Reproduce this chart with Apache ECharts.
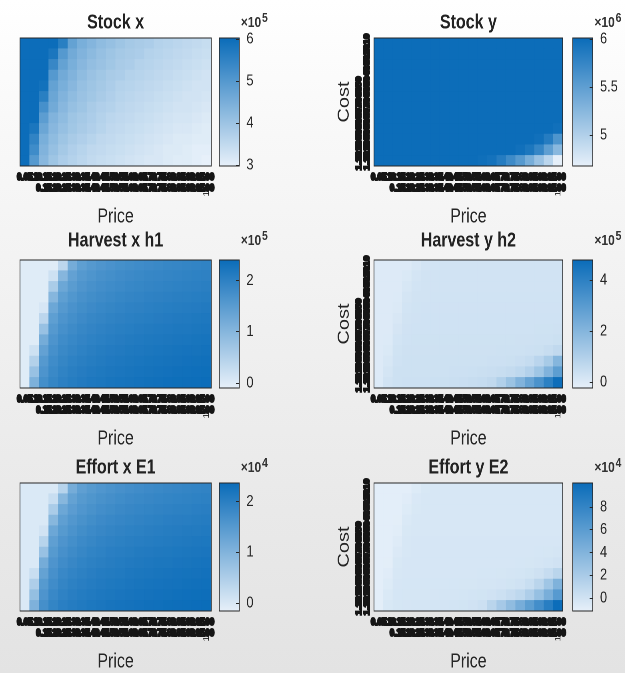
<!DOCTYPE html>
<html><head><meta charset="utf-8">
<script src="https://cdn.jsdelivr.net/npm/echarts@6/dist/echarts.min.js"></script>
<style>
html,body{margin:0;padding:0;width:625px;height:673px;overflow:hidden;
background:linear-gradient(to bottom,#ffffff 0%,#f8f8f8 20%,#ededed 60%,#e3e3e3 100%);}
#main{width:781px;height:673px;transform:scaleX(0.8);transform-origin:0 0;}
</style></head><body><div id="main"></div>
<script>
const prices = ['0.05','0.10','0.15','0.20','0.25','0.30','0.35','0.40','0.45','0.50','0.55','0.60','0.65','0.70','0.75','0.80','0.85','0.90','0.95','1.00'];
const costs = ['0.10','0.20','0.30','0.40','0.50','0.60','0.70','0.80','0.90','1.00','1.10','1.20'];

const stockX = [
[6,6,6,6,5.6,4.8,4.5,4.35,4.2,4.1,4.0,3.9,3.85,3.8,3.7,3.65,3.6,3.55,3.5,3.45],
[6,6,6,5.8,5.0,4.6,4.4,4.25,4.1,4.0,3.9,3.85,3.8,3.7,3.65,3.6,3.55,3.5,3.45,3.4],
[6,6,6,5.4,4.8,4.5,4.3,4.15,4.05,3.95,3.85,3.8,3.7,3.65,3.6,3.55,3.5,3.45,3.4,3.35],
[6,6,6,5.0,4.6,4.4,4.2,4.05,3.95,3.85,3.8,3.7,3.65,3.6,3.55,3.5,3.45,3.4,3.35,3.3],
[6,6,5.9,4.8,4.5,4.3,4.1,4.0,3.9,3.8,3.7,3.65,3.6,3.55,3.5,3.45,3.4,3.35,3.3,3.3],
[6,6,5.6,4.7,4.4,4.2,4.05,3.95,3.85,3.75,3.65,3.6,3.55,3.5,3.45,3.4,3.35,3.3,3.3,3.25],
[6,6,5.2,4.6,4.3,4.1,4.0,3.85,3.75,3.7,3.6,3.55,3.5,3.45,3.4,3.35,3.3,3.3,3.25,3.2],
[6,6,4.9,4.4,4.2,4.0,3.9,3.8,3.7,3.6,3.55,3.5,3.45,3.4,3.35,3.3,3.25,3.25,3.2,3.15],
[6,5.8,4.7,4.3,4.1,3.95,3.85,3.75,3.65,3.55,3.5,3.45,3.4,3.35,3.3,3.25,3.2,3.2,3.15,3.1],
[6,5.5,4.5,4.2,4.0,3.85,3.75,3.65,3.55,3.5,3.45,3.4,3.35,3.3,3.25,3.2,3.15,3.15,3.1,3.1],
[6,5.3,4.4,4.1,3.9,3.75,3.65,3.55,3.5,3.45,3.4,3.35,3.3,3.25,3.2,3.15,3.15,3.1,3.05,3.05],
[6,5.0,4.3,4.0,3.8,3.7,3.6,3.5,3.45,3.4,3.35,3.3,3.25,3.2,3.2,3.15,3.1,3.1,3.05,3.0]
];
const stockY = [
[6,6,6,6,6,6,6,6,6,6,6,6,6,6,6,6,6,6,6,6],
[6,6,6,6,6,6,6,6,6,6,6,6,6,6,6,6,6,6,6,6],
[6,6,6,6,6,6,6,6,6,6,6,6,6,6,6,6,6,6,6,6],
[6,6,6,6,6,6,6,6,6,6,6,6,6,6,6,6,6,6,6,6],
[6,6,6,6,6,6,6,6,6,6,6,6,6,6,6,6,6,6,6,6],
[6,6,6,6,6,6,6,6,6,6,6,6,6,6,6,6,6,6,6,6],
[6,6,6,6,6,6,6,6,6,6,6,6,6,6,6,6,6,6,6,6],
[6,6,6,6,6,6,6,6,6,6,6,6,6,6,6,6,6,6,6,6],
[6,6,6,6,6,6,6,6,6,6,6,6,6,6,6,6,6,6,6,5.97],
[6,6,6,6,6,6,6,6,6,6,6,6,6,6,6,6,6,5.97,5.85,5.6],
[6,6,6,6,6,6,6,6,6,6,6,6,6,6,6,5.97,5.9,5.75,5.5,5.25],
[6,6,6,6,6,6,6,6,6,6,6,5.98,5.95,5.85,5.7,5.55,5.35,5.15,4.95,4.7]
];
const harvestX = [
[0,0,0,0,0.4,1.2,1.45,1.55,1.62,1.68,1.73,1.77,1.8,1.83,1.86,1.89,1.91,1.93,1.95,1.97],
[0,0,0,0.2,1.0,1.4,1.55,1.63,1.7,1.75,1.79,1.83,1.86,1.89,1.91,1.93,1.95,1.97,1.99,2.0],
[0,0,0,0.6,1.3,1.5,1.62,1.7,1.76,1.8,1.84,1.88,1.9,1.93,1.95,1.97,1.99,2.01,2.02,2.04],
[0,0,0,1.0,1.45,1.6,1.7,1.77,1.82,1.86,1.9,1.93,1.95,1.98,2.0,2.02,2.04,2.05,2.07,2.08],
[0,0,0.1,1.3,1.55,1.68,1.77,1.83,1.88,1.92,1.95,1.98,2.0,2.03,2.05,2.07,2.08,2.1,2.11,2.13],
[0,0,0.4,1.45,1.65,1.75,1.83,1.89,1.93,1.97,2.0,2.03,2.05,2.07,2.09,2.11,2.13,2.14,2.16,2.17],
[0,0,0.8,1.55,1.72,1.82,1.89,1.94,1.98,2.02,2.05,2.07,2.1,2.12,2.14,2.15,2.17,2.18,2.2,2.21],
[0,0,1.2,1.65,1.8,1.88,1.94,1.99,2.03,2.06,2.09,2.12,2.14,2.16,2.18,2.19,2.21,2.22,2.24,2.25],
[0,0.2,1.4,1.72,1.86,1.93,1.99,2.04,2.08,2.11,2.13,2.16,2.18,2.2,2.22,2.23,2.25,2.26,2.27,2.29],
[0,0.5,1.55,1.8,1.92,1.99,2.04,2.08,2.12,2.15,2.17,2.2,2.22,2.24,2.25,2.27,2.28,2.3,2.31,2.32],
[0,0.8,1.65,1.86,1.97,2.04,2.09,2.13,2.16,2.19,2.21,2.23,2.25,2.27,2.29,2.3,2.32,2.33,2.34,2.35],
[0,1.1,1.75,1.92,2.02,2.08,2.13,2.17,2.2,2.23,2.25,2.27,2.29,2.31,2.32,2.34,2.35,2.36,2.37,2.38]
];
const harvestY = [
[0.02,0.02,0.02,0.02,0.12,0.24,0.26,0.27,0.27,0.27,0.27,0.27,0.27,0.27,0.27,0.27,0.27,0.27,0.27,0.27],
[0.02,0.02,0.02,0.08,0.22,0.27,0.28,0.28,0.28,0.28,0.28,0.28,0.28,0.28,0.28,0.28,0.28,0.28,0.28,0.28],
[0.02,0.02,0.02,0.15,0.26,0.28,0.29,0.29,0.29,0.29,0.29,0.29,0.29,0.29,0.29,0.29,0.29,0.29,0.29,0.29],
[0.02,0.02,0.03,0.22,0.28,0.29,0.3,0.3,0.3,0.3,0.3,0.3,0.3,0.3,0.3,0.3,0.3,0.3,0.3,0.3],
[0.02,0.02,0.06,0.26,0.3,0.31,0.31,0.31,0.31,0.31,0.31,0.31,0.31,0.31,0.31,0.31,0.31,0.31,0.31,0.31],
[0.02,0.02,0.12,0.29,0.31,0.32,0.32,0.32,0.32,0.32,0.32,0.32,0.32,0.32,0.32,0.32,0.32,0.32,0.32,0.33],
[0.02,0.02,0.2,0.31,0.33,0.33,0.33,0.33,0.33,0.33,0.33,0.33,0.33,0.33,0.33,0.33,0.33,0.34,0.34,0.35],
[0.02,0.03,0.26,0.33,0.34,0.34,0.34,0.34,0.34,0.34,0.34,0.34,0.34,0.34,0.34,0.35,0.35,0.36,0.38,0.42],
[0.02,0.08,0.3,0.35,0.35,0.35,0.35,0.35,0.35,0.35,0.35,0.35,0.35,0.36,0.36,0.37,0.39,0.42,0.5,0.65],
[0.02,0.15,0.33,0.36,0.36,0.36,0.36,0.36,0.36,0.37,0.37,0.38,0.39,0.4,0.42,0.46,0.55,0.8,1.2,2.0],
[0.02,0.22,0.36,0.37,0.37,0.37,0.38,0.38,0.39,0.4,0.41,0.43,0.46,0.5,0.58,0.7,0.95,1.4,2.1,2.9],
[0.03,0.28,0.38,0.39,0.39,0.4,0.41,0.42,0.44,0.47,0.5,0.55,0.65,1.0,1.5,2.1,2.7,3.3,4.0,4.7]
];
const effortX = [
[0,0,0,0,0.4,1.15,1.4,1.5,1.57,1.63,1.68,1.72,1.76,1.79,1.82,1.85,1.87,1.89,1.91,1.93],
[0,0,0,0.2,0.95,1.35,1.5,1.58,1.65,1.7,1.75,1.79,1.82,1.85,1.88,1.9,1.92,1.94,1.96,1.97],
[0,0,0,0.55,1.25,1.45,1.57,1.65,1.72,1.77,1.81,1.85,1.88,1.9,1.93,1.95,1.97,1.98,2.0,2.02],
[0,0,0,0.95,1.4,1.55,1.65,1.73,1.79,1.83,1.87,1.9,1.93,1.96,1.98,2.0,2.02,2.03,2.05,2.06],
[0,0,0.1,1.25,1.5,1.63,1.73,1.8,1.85,1.89,1.93,1.96,1.98,2.01,2.03,2.05,2.06,2.08,2.09,2.11],
[0,0,0.4,1.4,1.6,1.71,1.8,1.86,1.91,1.95,1.98,2.01,2.03,2.05,2.07,2.09,2.11,2.12,2.14,2.15],
[0,0,0.75,1.5,1.68,1.78,1.86,1.92,1.96,2.0,2.03,2.05,2.08,2.1,2.12,2.13,2.15,2.16,2.18,2.19],
[0,0,1.15,1.6,1.76,1.85,1.92,1.97,2.01,2.04,2.07,2.1,2.12,2.14,2.16,2.17,2.19,2.2,2.22,2.23],
[0,0.2,1.35,1.68,1.83,1.91,1.97,2.02,2.06,2.09,2.11,2.14,2.16,2.18,2.2,2.21,2.23,2.24,2.25,2.27],
[0,0.5,1.5,1.76,1.89,1.97,2.02,2.06,2.1,2.13,2.15,2.18,2.2,2.22,2.23,2.25,2.26,2.28,2.29,2.3],
[0,0.8,1.6,1.83,1.95,2.02,2.07,2.11,2.14,2.17,2.19,2.21,2.23,2.25,2.27,2.28,2.3,2.31,2.32,2.33],
[0,1.05,1.7,1.9,2.0,2.06,2.11,2.15,2.18,2.21,2.23,2.25,2.27,2.29,2.3,2.32,2.33,2.34,2.35,2.36]
];
const effortY = [
[-0.9,-0.9,-0.9,-0.9,-0.6,-0.35,-0.3,-0.3,-0.3,-0.3,-0.3,-0.3,-0.3,-0.3,-0.3,-0.3,-0.3,-0.3,-0.3,-0.3],
[-0.9,-0.9,-0.9,-0.75,-0.4,-0.3,-0.29,-0.29,-0.29,-0.29,-0.29,-0.29,-0.29,-0.29,-0.29,-0.29,-0.29,-0.29,-0.29,-0.29],
[-0.9,-0.9,-0.9,-0.6,-0.35,-0.29,-0.28,-0.28,-0.28,-0.28,-0.28,-0.28,-0.28,-0.28,-0.28,-0.28,-0.28,-0.28,-0.28,-0.28],
[-0.9,-0.9,-0.88,-0.45,-0.3,-0.27,-0.27,-0.27,-0.27,-0.27,-0.27,-0.27,-0.27,-0.27,-0.27,-0.27,-0.27,-0.27,-0.27,-0.27],
[-0.9,-0.9,-0.8,-0.35,-0.27,-0.26,-0.26,-0.26,-0.26,-0.26,-0.26,-0.26,-0.26,-0.26,-0.26,-0.26,-0.26,-0.26,-0.26,-0.26],
[-0.9,-0.9,-0.65,-0.3,-0.25,-0.25,-0.25,-0.25,-0.25,-0.25,-0.25,-0.25,-0.25,-0.25,-0.25,-0.25,-0.25,-0.25,-0.25,-0.24],
[-0.9,-0.9,-0.5,-0.27,-0.24,-0.24,-0.24,-0.24,-0.24,-0.24,-0.24,-0.24,-0.24,-0.24,-0.24,-0.24,-0.22,-0.2,-0.18,-0.15],
[-0.9,-0.88,-0.35,-0.24,-0.22,-0.22,-0.22,-0.22,-0.22,-0.22,-0.22,-0.22,-0.22,-0.22,-0.21,-0.2,-0.18,-0.12,-0.05,0.1],
[-0.9,-0.75,-0.28,-0.22,-0.21,-0.21,-0.21,-0.21,-0.21,-0.21,-0.21,-0.2,-0.2,-0.18,-0.15,-0.1,0.0,0.2,0.6,1.2],
[-0.9,-0.6,-0.24,-0.2,-0.2,-0.2,-0.2,-0.2,-0.19,-0.18,-0.17,-0.15,-0.12,-0.08,0.0,0.15,0.5,1.2,2.5,4.2],
[-0.9,-0.45,-0.2,-0.18,-0.18,-0.17,-0.16,-0.14,-0.12,-0.1,-0.05,0.0,0.1,0.3,0.6,1.0,1.8,3.0,4.5,6.2],
[-0.88,-0.35,-0.18,-0.16,-0.14,-0.12,-0.1,-0.08,-0.05,0.0,0.1,0.3,1.2,2.2,3.3,4.6,5.9,7.2,8.6,10.0]
];

const panelTitles = ['Stock x','Stock y','Harvest x h1','Harvest y h2','Effort x E1','Effort y E2'];
const exponents = [5,6,5,5,4,4];
const cbMin = [2.98, 4.68, -0.1, -0.24, -0.16, -1.14];
const cbMax = [6.03, 6.01, 2.4, 4.78, 2.37, 10.1];
const cbTicks = [[3,4,5,6],[5,5.5,6],[0,1,2],[0,2,4],[0,1,2],[0,2,4,6,8]];
const matrices = [stockX, stockY, harvestX, harvestY, effortX, effortY];

const LIGHT = '#e8f1fa', DARK = '#0a6cb9';
const FONT = '"Liberation Sans", Arial, Helvetica, sans-serif';
const TXT = '#262626';
const rowTop = [38, 260, 483], H = 128;
const titleGap = [15, 19, 15];
const colLeft = [25, 467.5], colW = [239, 236];
const cbLeft = [274, 716], cbW = 25;

const grid=[], xAxis=[], yAxis=[], series=[], visualMap=[], title=[];
const bandLabel = {interval:0, fontSize:10, fontWeight:'bold', color:'#161616', fontFamily:FONT,
  textBorderColor:'#161616', textBorderWidth:2};

matrices.forEach((M, p) => {
  const r = Math.floor(p/2), c = p % 2, isRight = c === 1;
  const gi = grid.length;
  grid.push({left: colLeft[c], top: rowTop[r], width: colW[c], height: H, show: true, z: 10,
    borderColor: TXT, borderWidth: 1, backgroundColor: 'transparent'});
  const cbi = grid.length;
  grid.push({left: cbLeft[c], top: rowTop[r], width: cbW, height: H, show: true, z: 0,
    borderColor: TXT, borderWidth: 1,
    backgroundColor: {type:'linear', x:0, y:0, x2:0, y2:1, colorStops:[{offset:0, color:DARK},{offset:1, color:LIGHT}]}});

  const xi = xAxis.length;
  xAxis.push({type:'category', gridIndex: gi, data: prices, position:'bottom',
    axisLine:{show:false}, axisTick:{show:false}, splitLine:{show:false},
    axisLabel: Object.assign({margin:6}, bandLabel),
    name:'Price', nameLocation:'middle', nameGap:41,
    nameTextStyle:{fontSize:20, color:TXT, fontFamily:FONT}});
  xAxis.push({type:'category', gridIndex: gi, data: prices, position:'bottom', offset: 11,
    axisLine:{show:false}, axisTick:{show:false}, splitLine:{show:false},
    axisLabel: Object.assign({margin:6, formatter:(v,i)=> i<2 ? '' : v}, bandLabel)});
  xAxis.push({type:'category', gridIndex: gi, data: prices, position:'bottom', offset: 22,
    axisLine:{show:false}, axisTick:{show:false}, splitLine:{show:false},
    axisLabel:{interval:0, rotate:90, fontSize:10, color:'#1b1b1b', fontFamily:FONT, margin:3,
      formatter:(v,i)=> i===prices.length-1 ? '1' : ''}});
  xAxis.push({type:'category', gridIndex: cbi, data:['cb'], show:false});

  const yi = yAxis.length;
  yAxis.push({type:'category', gridIndex: gi, data: costs, inverse: true, position:'left',
    axisLine:{show:false}, axisTick:{show:false}, splitLine:{show:false},
    axisLabel: isRight ? Object.assign({rotate:90, margin:4}, bandLabel) : {show:false},
    name: isRight ? 'Cost' : '', nameLocation:'middle', nameGap:27,
    nameTextStyle:{fontSize:20, color:TXT, fontFamily:FONT}});
  if (isRight) {
    yAxis.push({type:'category', gridIndex: gi, data: costs, inverse: true, position:'left', offset: 10,
      axisLine:{show:false}, axisTick:{show:false}, splitLine:{show:false},
      axisLabel: Object.assign({rotate:90, margin:4, formatter:(v,i)=> i<4 ? '' : v}, bandLabel)});
  }
  yAxis.push({type:'value', gridIndex: cbi, position:'right', min: cbMin[p], max: cbMax[p], z: 5,
    axisLine:{show:false}, splitLine:{show:false},
    axisTick:{show:true, inside:true, length:4, lineStyle:{color:TXT}, customValues: cbTicks[p]},
    axisLabel:{customValues: cbTicks[p], fontSize:16, color:TXT, margin:9, fontFamily:FONT}});

  const data = [];
  M.forEach((row, ri) => row.forEach((v, ci) => data.push([ci, ri, v])));
  series.push({type:'heatmap', xAxisIndex: xi, yAxisIndex: yi, data: data,
    emphasis:{disabled:true}, progressive:0, itemStyle:{borderWidth:0}});
  visualMap.push({type:'continuous', show:false, seriesIndex: p, dimension: 2,
    min: cbMin[p], max: cbMax[p], inRange:{color:[LIGHT, DARK]}});

  title.push({text: panelTitles[p], left: colLeft[c] + colW[c]/2, top: rowTop[r] - titleGap[r],
    textAlign:'center', textVerticalAlign:'middle', padding:0,
    textStyle:{fontSize:20, fontWeight:'bold', color:'#222', fontFamily:FONT}});
  title.push({text: '{a|×10}{b|' + exponents[p] + '}', left: cbLeft[c] + 27, top: rowTop[r] - titleGap[r],
    textAlign:'left', textVerticalAlign:'middle', padding:0,
    textStyle:{rich:{a:{fontSize:15, color:'#333', fontFamily:FONT},
      b:{fontSize:13, color:'#333', fontFamily:FONT, padding:[0,0,9,1]}}}});
});

const chart = echarts.init(document.getElementById('main'), null, {renderer:'canvas', devicePixelRatio: 2});
chart.setOption({animation:false, backgroundColor:'transparent', grid, xAxis, yAxis, series, visualMap, title});
</script></body></html>
